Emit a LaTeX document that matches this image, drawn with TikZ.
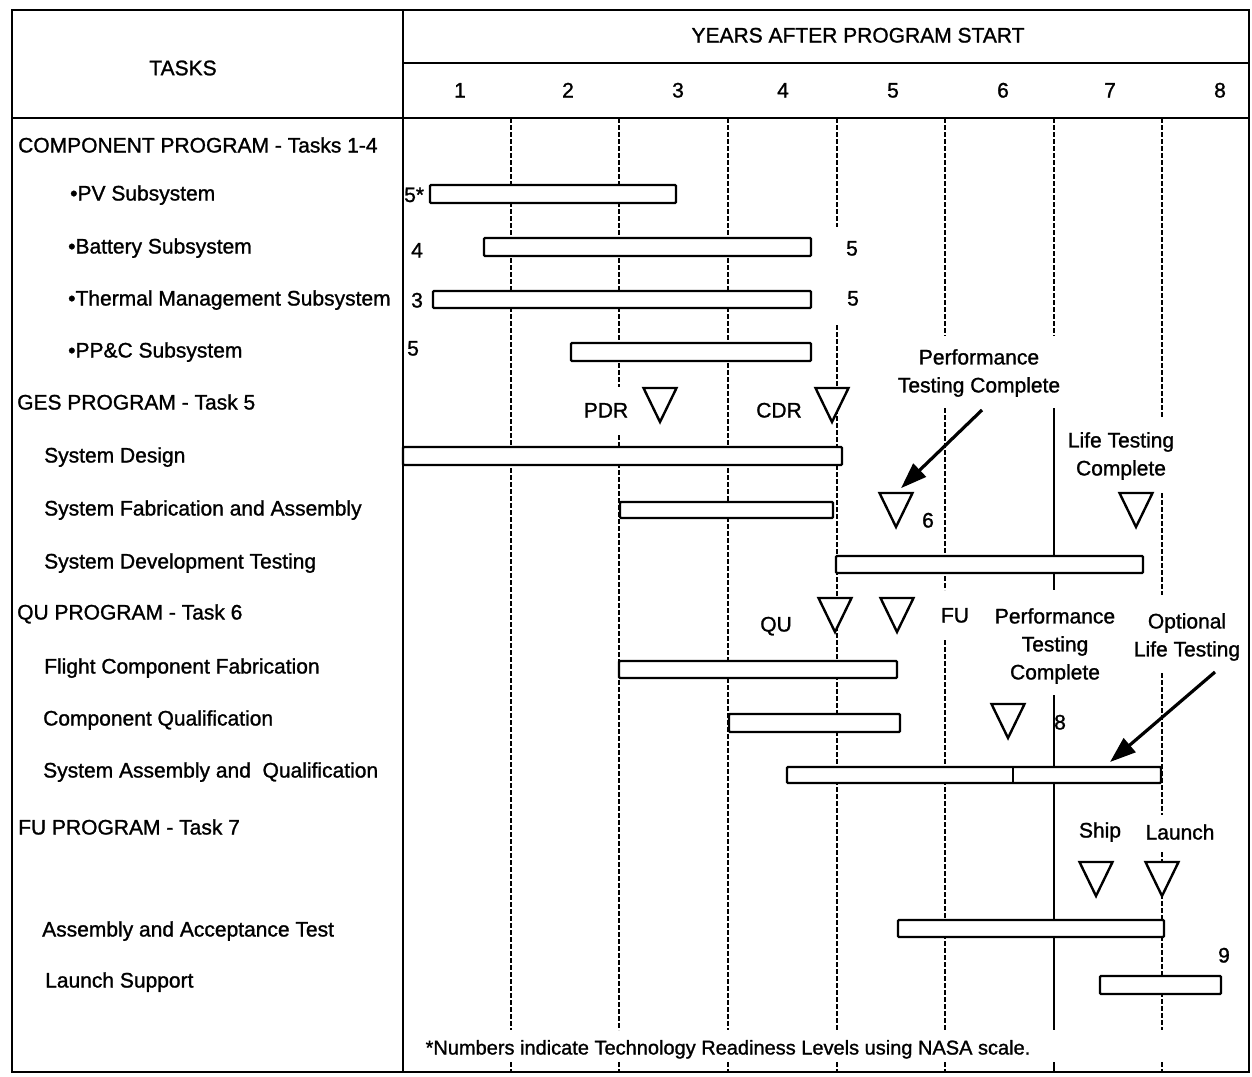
\documentclass[tikz,border=0pt]{standalone}
\usepackage{fontspec}
\setmainfont[FakeBold=1.2]{Liberation Sans}
\usetikzlibrary{arrows.meta}
\begin{document}
\begin{tikzpicture}[x=1pt,y=-1pt,
  txt/.style={font=\fontsize{21}{28}\selectfont, inner sep=0pt, anchor=base west},
  ctr/.style={font=\fontsize{21}{28}\selectfont, inner sep=0pt, anchor=base},
  lbl/.style={font=\fontsize{21}{28}\selectfont, inner sep=0pt, align=center},
  frame/.style={line width=2.6pt},
  bar/.style={draw, fill=white, line width=2.4pt, rounded corners=1pt},
  grid/.style={line width=1.4pt, dash pattern=on 5pt off 2pt},
  solidgrid/.style={line width=2.2pt},
  tri/.style={draw, fill=white, line width=2.4pt, line join=miter},
  arr/.style={line width=3.2pt, -{Triangle[length=26pt,width=18pt]}},
  milestone/.pic={\path[tri] (-16.5,0) -- (16.5,0) -- (0,34) -- cycle;}
]
\useasboundingbox (0,0) rectangle (1252,1076);
\fill[white] (0,0) rectangle (1252,1076);

% ---------- grid lines ----------
\foreach \x in {511,728}
  \draw[grid] (\x,118) -- (\x,1030) (\x,1062) -- (\x,1072);
\draw[grid] (619,118) -- (619,387) (619,435) -- (619,1030) (619,1062) -- (619,1072);
\draw[grid] (837,118) -- (837,227) (837,325) -- (837,1030) (837,1062) -- (837,1072);
\draw[grid] (945,118) -- (945,336) (945,408) -- (945,590) (945,640) -- (945,1030) (945,1062) -- (945,1072);
\draw[grid] (1054,118) -- (1054,336);
\draw[solidgrid] (1054,408) -- (1054,590) (1054,695) -- (1054,1030) (1054,1062) -- (1054,1072);
\draw[grid] (1162,118) -- (1162,417) (1162,493) -- (1162,595) (1162,673) -- (1162,815) (1162,852) -- (1162,1030) (1162,1062) -- (1162,1072);

% ---------- frame ----------
\draw[frame] (12,10) rectangle (1249,1072);
\draw[frame] (403,10) -- (403,1072);
\draw[frame] (403,63) -- (1249,63);
\draw[frame] (12,118) -- (1249,118);

% ---------- header ----------
\node[lbl] (tasks) at (183,68) {TASKS};
\node[ctr] (years) at (858,42.5) {YEARS AFTER PROGRAM START};
\node[ctr] (y1) at (460,97.5) {1};
\node[ctr] (y2) at (568,97.5) {2};
\node[ctr] (y3) at (678,97.5) {3};
\node[ctr] (y4) at (783,97.5) {4};
\node[ctr] (y5) at (893,97.5) {5};
\node[ctr] (y6) at (1003,97.5) {6};
\node[ctr] (y7) at (1110,97.5) {7};
\node[ctr] (y8) at (1220,97.5) {8};

% ---------- task names ----------
\node[txt] (t0)  at (18,152.5) {COMPONENT PROGRAM - Tasks 1-4};
\node[txt] (t1)  at (70,200.5) {•PV Subsystem};
\node[txt] (t2)  at (68,253.5) {•Battery Subsystem};
\node[txt] (t3)  at (68,305.5) {•Thermal Management Subsystem};
\node[txt] (t4)  at (68,357.5) {•PP\&C Subsystem};
\node[txt] (t5)  at (17,409.5) {GES PROGRAM - Task 5};
\node[txt] (t6)  at (44,462.5) {System Design};
\node[txt] (t7)  at (44,515.5) {System Fabrication and Assembly};
\node[txt] (t8)  at (44,568.5) {System Development Testing};
\node[txt] (t9)  at (17,619.5) {QU PROGRAM - Task 6};
\node[txt] (t10) at (44,673.5) {Flight Component Fabrication};
\node[txt] (t11) at (43,725.5) {Component Qualification};
\node[txt] (t12) at (43,777.5) {System Assembly and\ \ Qualification};
\node[txt] (t13) at (18,834.5) {FU PROGRAM - Task 7};
\node[txt] (t14) at (42,936.5) {Assembly and Acceptance Test};
\node[txt] (t15) at (45,987.5) {Launch Support};

% ---------- bars ----------
\draw[bar] (430,185) rectangle (676,203);
\draw[bar] (484,238) rectangle (811,256);
\draw[bar] (433,291) rectangle (811,308);
\draw[bar] (571,343) rectangle (811,361);
\draw[bar] (403,447) rectangle (842,465);
\draw[bar] (620,502) rectangle (833,518);
\draw[bar] (836,556) rectangle (1143,573);
\draw[bar] (619,661) rectangle (897,678);
\draw[bar] (729,714) rectangle (900,732);
\draw[bar] (787,767) rectangle (1161,783);
\draw[line width=2.4pt] (1013,767) -- (1013,783);
\draw[bar] (898,920) rectangle (1164,937);
\draw[bar] (1100,976) rectangle (1221,994);

% ---------- readiness levels ----------
\node[txt] (r1) at (404,202) {5*};
\node[txt] (r2) at (411,257.5) {4};
\node[txt] (r3) at (411,307.5) {3};
\node[txt] (r4) at (407,355.5) {5};
\node[ctr] (r5) at (852,255.5) {5};
\node[ctr] (r6) at (853,305.5) {5};
\node[ctr] (r7) at (928,527.5) {6};
\node[ctr] (r8) at (1060,729.5) {8};
\node[ctr] (r9) at (1224,962.5) {9};

% ---------- milestones ----------
\node[ctr] (pdr) at (606,417.5) {PDR};
\coordinate (tpdr) at (660,388);
\pic at (tpdr) {milestone};
\node[ctr] (cdr) at (779,417.5) {CDR};
\coordinate (tcdr) at (832,388);
\pic at (tcdr) {milestone};
\node[lbl] (ptc1) at (979,373) {Performance\\Testing Complete};
\coordinate (tptc1) at (896,493);
\pic at (tptc1) {milestone};
\node[lbl] (ltc) at (1121,456) {Life Testing\\Complete};
\coordinate (tltc) at (1136,493);
\pic at (tltc) {milestone};
\node[ctr] (qu) at (776,631.5) {QU};
\coordinate (tqu) at (835,598);
\pic at (tqu) {milestone};
\coordinate (tfu) at (897,598);
\pic at (tfu) {milestone};
\node[ctr] (fu) at (955,622.5) {FU};
\node[lbl] (ptc2) at (1055,646) {Performance\\Testing\\Complete};
\node[lbl] (olt) at (1187,637) {Optional\\Life Testing};
\coordinate (tptc2) at (1008,704);
\pic at (tptc2) {milestone};
\node[ctr] (ship) at (1100,837.5) {Ship};
\node[ctr] (launch) at (1180,839.5) {Launch};
\coordinate (tship) at (1096,862);
\pic at (tship) {milestone};
\coordinate (tlaunch) at (1162,862);
\pic at (tlaunch) {milestone};

% ---------- arrows ----------
\coordinate (a1s) at (982,410);
\coordinate (a2s) at (1215,672);
\coordinate (a2e) at (1110,762);
\draw[arr, shorten >=7pt] (a1s) -- (tptc1);
\draw[arr] (a2s) -- (a2e);

% ---------- footnote ----------
\node[ctr, font=\fontsize{20}{24}\selectfont] (note) at (728,1054.5) {*Numbers indicate Technology Readiness Levels using NASA scale.};
\end{tikzpicture}
\end{document}
